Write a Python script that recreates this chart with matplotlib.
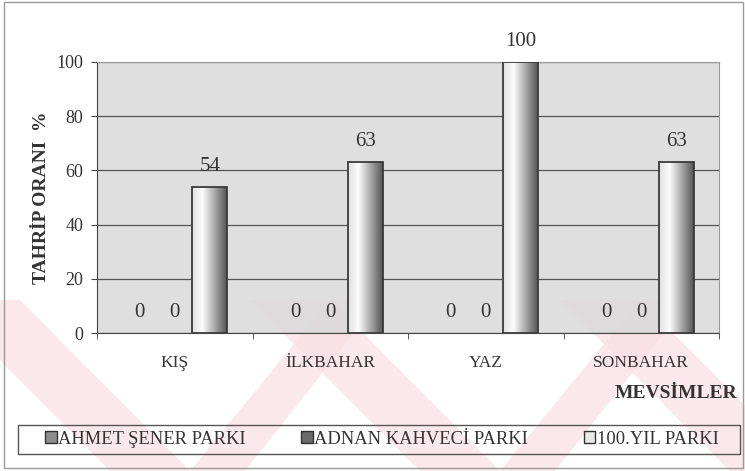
import numpy as np
import matplotlib.pyplot as plt
from matplotlib.patches import Rectangle, Polygon, Patch

plt.rcParams['font.family'] = ['Liberation Serif', 'DejaVu Serif']

# ------ veriler ------
mevsimler = ['KIŞ', 'İLKBAHAR', 'YAZ', 'SONBAHAR']
parklar = ['AHMET ŞENER PARKI', 'ADNAN KAHVECİ PARKI', '100.YIL PARKI']
ahmet_sener = [0, 0, 0, 0]
adnan_kahveci = [0, 0, 0, 0]
yuzuncu_yil = [54, 63, 100, 63]
seriler = [ahmet_sener, adnan_kahveci, yuzuncu_yil]
renkler = ['#8c8c8c', '#6a6a6a', '#e8e8e8']

fig = plt.figure(figsize=(7.45, 4.71), dpi=100)
fig.patch.set_facecolor('white')

# soluk filigran (taranmış sayfadaki pembe V şekilleri)
wm = fig.add_axes([0, 0, 1, 1], zorder=-5)
wm.set_xlim(0, 745)
wm.set_ylim(471, 0)
wm.axis('off')
for dx in [0, 310, 620]:
    wm.add_patch(Polygon([(dx - 60, 300), (dx + 20, 300), (dx + 190, 471), (dx + 110, 471)],
                         closed=True, color='#f9dfe4', alpha=0.7, lw=0))
    wm.add_patch(Polygon([(dx + 190, 471), (dx + 330, 300), (dx + 380, 300), (dx + 245, 471)],
                         closed=True, color='#f9dfe4', alpha=0.7, lw=0))

# dış çerçeve
fig.add_artist(Rectangle((4 / 745, 3 / 471), 739 / 745, 466 / 471, transform=fig.transFigure,
                         fill=False, ec='#9a9a9a', lw=1))

ax = fig.add_axes([97 / 745, 1 - 333 / 471, 622 / 745, 271 / 471])
ax.set_facecolor('#d8d8d8')
ax.patch.set_alpha(0.8)

x = np.arange(len(mevsimler))
w = 0.225
offsets = [-w, 0, w]

grad = np.linspace(0, 1, 100)
shade = np.interp(grad, [0, 0.3, 1], [0.88, 0.99, 0.33])
img = np.repeat(np.dstack([shade, shade, shade]), 2, axis=0)

for s, (vals, off) in enumerate(zip(seriler, offsets)):
    for xi, v in zip(x + off, vals):
        if v > 0:
            b = ax.bar(xi, v, width=w, color=renkler[s], lw=0, zorder=3)[0]
            im = ax.imshow(img, extent=(b.get_x(), b.get_x() + w, 0, v), aspect='auto',
                           zorder=3.5, interpolation='bilinear')
            im.set_clip_path(b)
            ax.add_patch(Rectangle((b.get_x(), 0), w, v, fill=False, ec='#3a3a3a', lw=1.3, zorder=4))
            ax.text(xi, v + 4, str(v), ha='center', va='bottom', fontsize=15, color='#333333')
        else:
            ax.text(xi, 4, str(v), ha='center', va='bottom', fontsize=15, color='#333333')

ax.set_xlim(-0.5, len(mevsimler) - 0.5)
ax.set_ylim(0, 100)
ax.set_yticks([0, 20, 40, 60, 80, 100])
ax.yaxis.grid(True, color='#555555', lw=0.9)
ax.set_axisbelow(True)
ax.set_xticks(x)
ax.set_xticklabels(mevsimler, fontsize=12.5, color='#333333')
ax.set_xticks(np.arange(-0.5, len(mevsimler)), minor=True)
ax.tick_params(axis='x', which='major', length=0, pad=16)
ax.tick_params(axis='x', which='minor', length=4, color='#444444')
ax.tick_params(axis='y', labelsize=13, labelcolor='#333333', length=4, color='#444444', pad=6)
for sp in ['top', 'right']:
    ax.spines[sp].set_color('#999999')
for sp in ['left', 'bottom']:
    ax.spines[sp].set_color('#444444')

fig.text(42 / 745, 1 - 198 / 471, 'TAHRİP ORANI  %', rotation=90, ha='center', va='center',
         fontsize=14, fontweight='bold', color='#333333')
fig.text(737 / 745, 1 - 393 / 471, 'MEVSİMLER', ha='right', va='center', fontsize=14,
         fontweight='bold', color='#333333')

# lejant çerçevesi ayrı çiziliyor
fig.add_artist(Rectangle((18 / 745, 1 - 454 / 471), 722 / 745, 29 / 471, transform=fig.transFigure,
                         fill=False, ec='#555555', lw=1))
handles = [Patch(facecolor=c, edgecolor='#333333', lw=1) for c in renkler]
leg = fig.legend(handles, parklar, loc='center', bbox_to_anchor=(382 / 745, 1 - 439 / 471),
                 ncol=3, fontsize=13.3, frameon=False, handlelength=0.6, handleheight=0.6,
                 handletextpad=0.1, columnspacing=3.0)
for t in leg.get_texts():
    t.set_color('#333333')

fig.savefig('out.png', dpi=100)
